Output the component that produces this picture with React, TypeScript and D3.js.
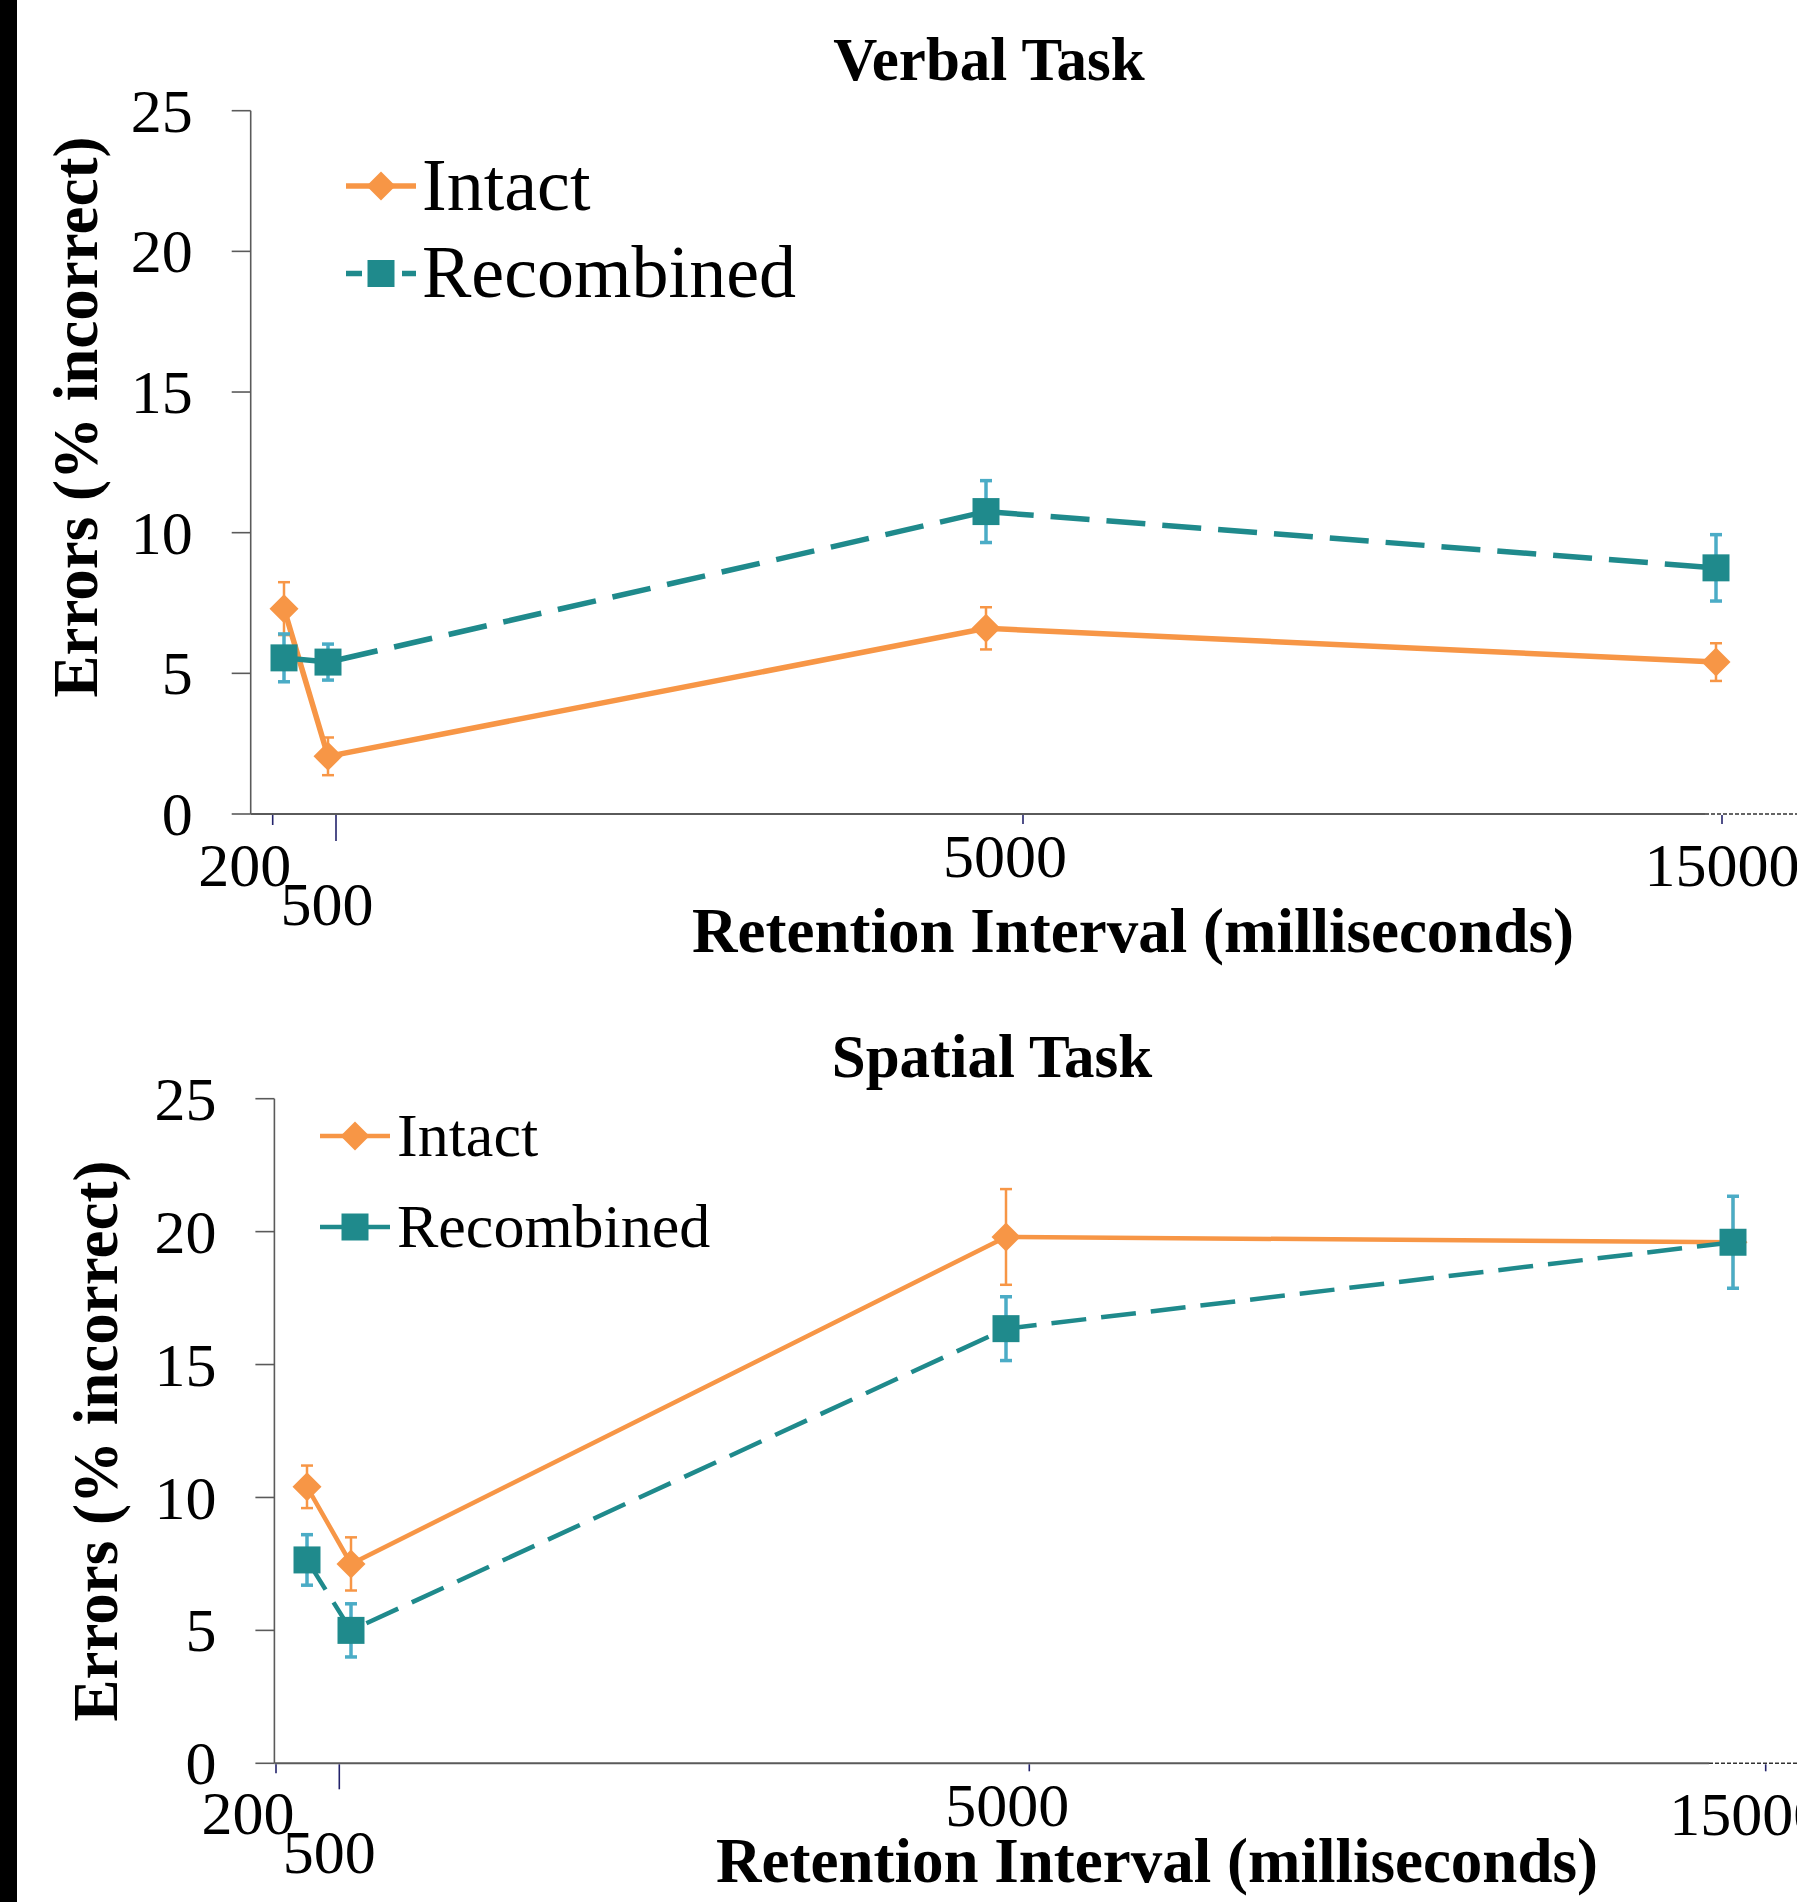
import React from 'react';
import * as d3 from 'd3';

// retention intervals (ms) and tick labels
const intervals = [200, 500, 5000, 15000];
const intervalLabels = ['200', '500', '5000', '15000'];
const errorTicks = [0, 5, 10, 15, 20, 25];
const seriesNames = ['Intact', 'Recombined'];

// Verbal task: errors (% incorrect) and error bars
const verbalIntact = [7.3, 2.05, 6.6, 5.4];
const verbalIntactSE = [0.94, 0.67, 0.75, 0.67];
const verbalRecombined = [5.55, 5.4, 10.75, 8.75];
const verbalRecombinedSE = [0.85, 0.64, 1.1, 1.18];

// Spatial task
const spatialIntact = [10.4, 7.5, 19.8, 19.6];
const spatialIntactSE = [0.8, 1.0, 1.8, 1.73];
const spatialRecombined = [7.65, 5.0, 16.35, 19.6];
const spatialRecombinedSE = [0.95, 1.0, 1.2, 1.73];

const W = 1797;
const H = 1902;
const ORANGE = '#f79646';
const TEAL = '#1f8a8c';
const TEAL_ERR = '#4bacc6';
const AXIS = '#5a5a5a';
const TICK = '#23236b';
const FONT = '"Liberation Serif", "Times New Roman", Times, serif';

const rhombus = {
  draw(ctx: any, size: number) {
    const r = Math.sqrt(size / 2);
    ctx.moveTo(0, -r);
    ctx.lineTo(r, 0);
    ctx.lineTo(0, r);
    ctx.lineTo(-r, 0);
    ctx.closePath();
  },
};
const diamondPath = d3.symbol().type(rhombus as any).size(2 * 14.5 * 14.5)() as string;
const squarePath = d3.symbol().type(d3.symbolSquare).size(27 * 27)() as string;

const verbalLayout = {
  title: 'Verbal Task', titleX: 989, titleY: 80,
  axisX: 250.7, axisEnd: 1705, yBottom: 814, yTop: 110.7,
  markX: [284, 328, 986, 1716],
  tickX: [272.7, 336, 1023, 1722],
  tickLen: [11, 27, 10, 10],
  labelDx: [-28, -9, -18, 0], labelDy: [72, 111, 63, 72],
  xTitleX: 1133, xTitleY: 952,
  yTitleX: 97, yTitleY: 417,
  legend: { x0: 346, x1: 416, textX: 422, rows: [186, 273.5], textDy: 23.5, fontSize: 74, dash: ['none', '16 40'] },
  lineWidth: 5.5, dash: '39 17',
};

const spatialLayout = {
  title: 'Spatial Task', titleX: 992, titleY: 1077,
  axisX: 274.4, axisEnd: 1709, yBottom: 1763.3, yTop: 1098.7,
  markX: [307, 351, 1006, 1733],
  tickX: [276, 339.3, 1029.3, 1765.7],
  tickLen: [10, 26, 8, 8],
  labelDx: [-28, -10, -22, -19], labelDy: [71, 109.4, 62.4, 72],
  xTitleX: 1157, xTitleY: 1882,
  yTitleX: 117, yTitleY: 1441,
  legend: { x0: 320, x1: 390, textX: 397, rows: [1136, 1227], textDy: 19.5, fontSize: 62, dash: ['none', 'none'] },
  lineWidth: 4.5, dash: '35 15',
};

type Layout = typeof verbalLayout;

function Panel({ layout, values, errors }: { layout: Layout; values: number[][]; errors: number[][] }) {
  const L = layout;
  const y = d3.scaleLinear().domain([0, 25]).range([L.yBottom, L.yTop]);
  const xMark = d3.scaleLinear().domain(intervals).range(L.markX);
  const xTick = d3.scaleLinear().domain(intervals).range(L.tickX);
  const line = d3.line<number>()
    .x((_, i) => xMark(intervals[i]))
    .y((d) => y(d));

  const colors = [ORANGE, TEAL];
  const errColors = [ORANGE, TEAL_ERR];
  const errWidths = [2.5, 3.5];
  const markers = [diamondPath, squarePath];
  const dashes = ['none', L.dash];

  return (
    <g>
      <text x={L.titleX} y={L.titleY} textAnchor="middle" fontFamily={FONT} fontWeight="bold" fontSize={61}>
        {L.title}
      </text>

      {/* y axis */}
      <line x1={L.axisX} x2={L.axisX} y1={y(0)} y2={y(25)} stroke={AXIS} strokeWidth={1.6} />
      {errorTicks.map((t) => (
        <g key={t}>
          <line x1={L.axisX - 19} x2={L.axisX} y1={y(t)} y2={y(t)} stroke={AXIS} strokeWidth={1.6} />
          <text x={L.axisX - 58} y={y(t)} dy="0.34em" textAnchor="end" fontFamily={FONT} fontSize={62}>
            {t}
          </text>
        </g>
      ))}

      {/* x axis */}
      <line x1={L.axisX} x2={L.axisEnd} y1={y(0)} y2={y(0)} stroke={AXIS} strokeWidth={2} />
      <line x1={L.axisEnd} x2={W} y1={y(0)} y2={y(0)} stroke="#333" strokeWidth={1.4} strokeDasharray="4 2" />
      {intervals.map((v, i) => (
        <g key={v}>
          <line x1={xTick(v)} x2={xTick(v)} y1={y(0) + 1} y2={y(0) + L.tickLen[i]} stroke={TICK} strokeWidth={1.6} />
          <text x={xTick(v) + L.labelDx[i]} y={y(0) + L.labelDy[i]} textAnchor="middle" fontFamily={FONT} fontSize={62}>
            {intervalLabels[i]}
          </text>
        </g>
      ))}

      <text x={L.xTitleX} y={L.xTitleY} textAnchor="middle" fontFamily={FONT} fontWeight="bold" fontSize={63}>
        Retention Interval (milliseconds)
      </text>
      <text
        transform={`translate(${L.yTitleX},${L.yTitleY}) rotate(-90)`}
        textAnchor="middle"
        fontFamily={FONT}
        fontWeight="bold"
        fontSize={63}
      >
        Errors (% incorrect)
      </text>

      {/* series */}
      {values.map((vals, s) => (
        <g key={seriesNames[s]}>
          <path d={line(vals) as string} fill="none" stroke={colors[s]} strokeWidth={L.lineWidth} strokeDasharray={dashes[s]} />
          {vals.map((v, i) => {
            const cx = xMark(intervals[i]);
            const lo = y(v - errors[s][i]);
            const hi = y(v + errors[s][i]);
            return (
              <g key={i} stroke={errColors[s]} strokeWidth={errWidths[s]}>
                <line x1={cx} x2={cx} y1={lo} y2={hi} />
                <line x1={cx - 6} x2={cx + 6} y1={lo} y2={lo} />
                <line x1={cx - 6} x2={cx + 6} y1={hi} y2={hi} />
              </g>
            );
          })}
          {vals.map((v, i) => (
            <path key={i} d={markers[s]} transform={`translate(${xMark(intervals[i])},${y(v)})`} fill={colors[s]} />
          ))}
        </g>
      ))}

      {/* legend */}
      {seriesNames.map((name, s) => {
        const ly = L.legend.rows[s];
        const mx = (L.legend.x0 + L.legend.x1) / 2;
        return (
          <g key={name}>
            <line
              x1={L.legend.x0}
              x2={L.legend.x1}
              y1={ly}
              y2={ly}
              stroke={colors[s]}
              strokeWidth={L.lineWidth}
              strokeDasharray={L.legend.dash[s]}
            />
            <path d={markers[s]} transform={`translate(${mx},${ly})`} fill={colors[s]} />
            <text x={L.legend.textX} y={ly + L.legend.textDy} fontFamily={FONT} fontSize={L.legend.fontSize}>
              {name}
            </text>
          </g>
        );
      })}
    </g>
  );
}

export default function App() {
  return (
    <svg
      width={W}
      height={H}
      viewBox={`0 0 ${W} ${H}`}
      style={{ position: 'absolute', left: 0, top: 0, display: 'block', background: '#fff' }}
    >
      <rect x={0} y={0} width={W} height={H} fill="#fff" />
      <rect x={0} y={0} width={17} height={H} fill="#000" />
      <Panel
        layout={verbalLayout}
        values={[verbalIntact, verbalRecombined]}
        errors={[verbalIntactSE, verbalRecombinedSE]}
      />
      <Panel
        layout={spatialLayout}
        values={[spatialIntact, spatialRecombined]}
        errors={[spatialIntactSE, spatialRecombinedSE]}
      />
    </svg>
  );
}
